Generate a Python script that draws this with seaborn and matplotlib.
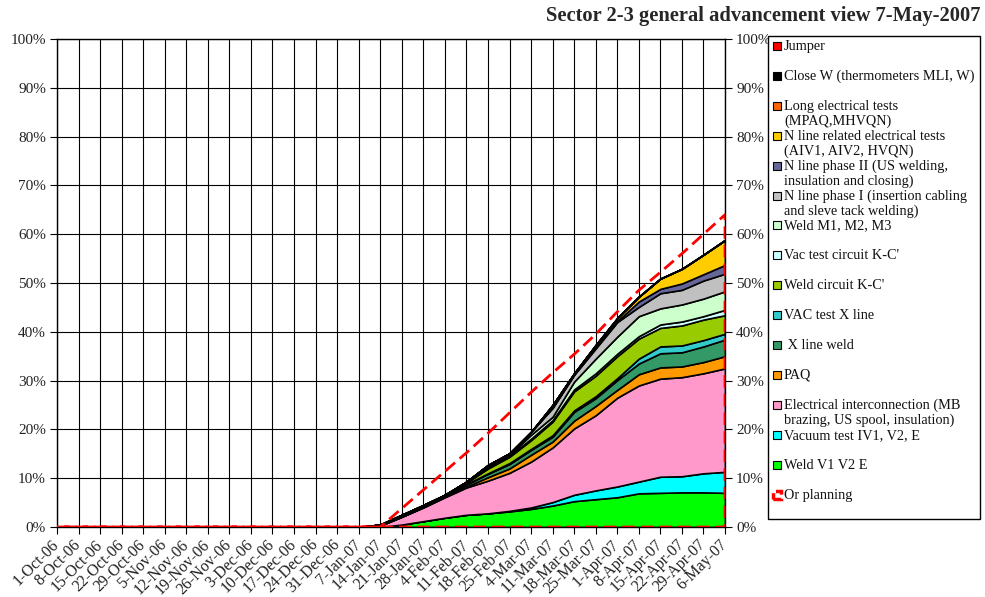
import numpy as np
import matplotlib
matplotlib.use("Agg")
import matplotlib.pyplot as plt
from matplotlib.patches import Rectangle
import seaborn as sns

# weekly dates on the x axis
weeks = ['1-Oct-06', '8-Oct-06', '15-Oct-06', '22-Oct-06', '29-Oct-06', '5-Nov-06',
         '12-Nov-06', '19-Nov-06', '26-Nov-06', '3-Dec-06', '10-Dec-06', '17-Dec-06',
         '24-Dec-06', '31-Dec-06', '7-Jan-07', '14-Jan-07', '21-Jan-07', '28-Jan-07',
         '4-Feb-07', '11-Feb-07', '18-Feb-07', '25-Feb-07', '4-Mar-07', '11-Mar-07',
         '18-Mar-07', '25-Mar-07', '1-Apr-07', '8-Apr-07', '15-Apr-07', '22-Apr-07',
         '29-Apr-07', '6-May-07']

# layer thickness in %, bottom of the stack first
weld_v1 = [0, 0, 0, 0, 0, 0, 0, 0, 0, 0, 0, 0, 0, 0, 0,
           0.0, 0.5, 1.2, 1.9, 2.5, 2.8, 3.2, 3.7, 4.4, 5.3, 5.7, 6.1, 6.9, 7.0, 7.1, 7.1, 7.0]
vac_iv1 = [0, 0, 0, 0, 0, 0, 0, 0, 0, 0, 0, 0, 0, 0, 0,
           0, 0, 0, 0, 0, 0, 0.1, 0.3, 0.7, 1.3, 1.8, 2.2, 2.4, 3.3, 3.3, 3.9, 4.3]
elec_ic = [0, 0, 0, 0, 0, 0, 0, 0, 0, 0, 0, 0, 0, 0, 0,
           0.3, 1.6, 2.8, 4.2, 5.6, 6.7, 7.8, 9.4, 11.2, 13.6, 15.4, 18.2, 19.7, 20.1, 20.3, 20.5, 21.2]
paq = [0, 0, 0, 0, 0, 0, 0, 0, 0, 0, 0, 0, 0, 0, 0,
       0, 0, 0.1, 0.1, 0.2, 0.7, 0.9, 1.4, 1.2, 1.6, 1.9, 1.6, 2.3, 2.3, 2.2, 2.3, 2.5]
x_weld = [0, 0, 0, 0, 0, 0, 0, 0, 0, 0, 0, 0, 0, 0, 0,
          0, 0.1, 0.1, 0.1, 0.4, 0.7, 0.9, 1.0, 1.0, 1.8, 1.6, 2.0, 2.2, 2.9, 2.9, 3.2, 3.4]
vac_x = [0, 0, 0, 0, 0, 0, 0, 0, 0, 0, 0, 0, 0, 0, 0,
         0, 0, 0, 0, 0.1, 0.1, 0.2, 0.2, 0.3, 0.3, 0.4, 0.4, 1.0, 1.4, 1.4, 1.3, 1.2]
weld_kc = [0, 0, 0, 0, 0, 0, 0, 0, 0, 0, 0, 0, 0, 0, 0,
           0, 0.1, 0.2, 0.2, 0.3, 1.0, 1.3, 1.8, 2.8, 3.9, 4.2, 4.5, 4.1, 3.8, 4.1, 4.2, 3.8]
vac_kc = [0, 0, 0, 0, 0, 0, 0, 0, 0, 0, 0, 0, 0, 0, 0,
          0, 0, 0, 0, 0, 0.2, 0.2, 0.3, 0.3, 0.4, 0.5, 0.5, 0.5, 0.7, 0.8, 0.7, 1.1]
weld_m = [0, 0, 0, 0, 0, 0, 0, 0, 0, 0, 0, 0, 0, 0, 0,
          0, 0.1, 0.1, 0.1, 0.1, 0.3, 0.2, 0.8, 0.7, 1.6, 3.0, 3.5, 4.1, 3.3, 3.5, 3.6, 3.8]
n_phase1 = [0, 0, 0, 0, 0, 0, 0, 0, 0, 0, 0, 0, 0, 0, 0,
            0.2, 0.1, 0, 0, 0.1, 0.2, 0.3, 0.6, 1.8, 1.4, 2.1, 3.0, 1.9, 3.1, 3.0, 3.7, 3.6]
n_phase2 = [0, 0, 0, 0, 0, 0, 0, 0, 0, 0, 0, 0, 0, 0, 0,
            0, 0, 0, 0, 0, 0, 0, 0, 0.2, 0.1, 0.2, 0.2, 1.1, 0.9, 1.3, 1.3, 1.8]
n_elec = [0, 0, 0, 0, 0, 0, 0, 0, 0, 0, 0, 0, 0, 0, 0,
          0, 0, 0, 0, 0, 0, 0, 0, 0.4, 0.2, 0.5, 0.6, 1.0, 2.1, 3.0, 4.0, 5.1]
long_elec = [0] * 32
close_w = [0] * 32
jumper = [0] * 32

# planning curve (cumulative %)
planning = [0, 0, 0, 0, 0, 0, 0, 0, 0, 0, 0, 0, 0, 0, 0,
            0, 3.8, 7.6, 11.4, 15.2, 19.2, 23.4, 27.6, 31.6, 35.4, 39.5, 44.1, 48.5, 52.2, 56.0, 60.0, 64.0]

layers = [weld_v1, vac_iv1, elec_ic, paq, x_weld, vac_x, weld_kc, vac_kc, weld_m,
          n_phase1, n_phase2, n_elec, long_elec, close_w, jumper]
colors = ['#00FF00', '#00FFFF', '#FF99CC', '#FF9900', '#339966', '#33CCCC', '#99CC00',
          '#CCFFFF', '#CCFFCC', '#C0C0C0', '#666699', '#FFCC00', '#FF6600', '#000000', '#FF0000']
labels = ['Weld V1 V2 E', 'Vacuum test IV1, V2, E',
          'Electrical interconnection (MB\nbrazing, US spool, insulation)', 'PAQ',
          ' X line weld', 'VAC test X line', "Weld circuit K-C'", "Vac test circuit K-C'",
          'Weld M1, M2, M3', 'N line phase I (insertion cabling\nand sleve tack welding)',
          'N line phase II (US welding,\ninsulation and closing)',
          'N line related electrical tests\n(AIV1, AIV2, HVQN)',
          'Long electrical tests\n(MPAQ,MHVQN)', 'Close W (thermometers MLI, W)', 'Jumper']

sns.set_theme(style="white")
plt.rcParams['font.family'] = ['Liberation Serif', 'DejaVu Serif']

W, H = 985, 597
fig = plt.figure(figsize=(W / 100, H / 100), dpi=100)
ax = fig.add_axes([57 / W, 1 - 527 / H, (725 - 57) / W, (527 - 39) / H])

x = np.arange(len(weeks))
ax.stackplot(x, *layers, colors=colors, edgecolor='black', linewidth=1.2, zorder=2)
ax.fill_between(x, planning, facecolor='none', edgecolor='red', linewidth=2,
                linestyle=(0, (4.5, 2.2)), zorder=4)

ax.set_xlim(0, len(weeks) - 1)
ax.set_ylim(0, 100)
ax.set_xticks(x)
ax.set_xticklabels(weeks, rotation=45, ha='right', va='center', rotation_mode='anchor',
                   fontsize=11.5)
ax.set_yticks(np.arange(0, 101, 10))
ax.set_yticklabels([f'{v}%' for v in range(0, 101, 10)], fontsize=11)
ax.tick_params(axis='y', which='both', left=True, right=True, labelright=True,
               direction='out', length=5, width=0.8, color='black', pad=3, labelcolor='#222222')
ax.tick_params(axis='x', bottom=True, direction='out', length=5, width=0.8,
               color='black', pad=6, labelcolor='#222222')
ax.grid(True, color='black', linewidth=0.8)
ax.set_axisbelow(True)
for s in ax.spines.values():
    s.set_color('black')
    s.set_linewidth(1)

fig.text(980 / W, 1 - 16 / H, 'Sector 2-3 general advancement view 7-May-2007',
         ha='right', va='center', fontsize=14.8, fontweight='bold')

# legend box, drawn by hand to keep even row spacing
fig.patches.append(Rectangle((768 / W, 1 - 519 / H), 212 / W, 483 / H, transform=fig.transFigure,
                             facecolor='white', edgecolor='black', linewidth=1))
entries = list(zip(labels[::-1], colors[::-1])) + [('Or planning', None)]
for k, (lab, col) in enumerate(entries):
    yc = 46 + k * 29.9
    if col is None:
        fig.patches.append(Rectangle((773 / W, 1 - (yc + 4) / H), 8 / W, 8 / H,
                                     transform=fig.transFigure, facecolor='none',
                                     edgecolor='red', linewidth=2.5, linestyle=(0, (2.5, 1.2))))
    else:
        fig.patches.append(Rectangle((773 / W, 1 - (yc + 4) / H), 8 / W, 8 / H,
                                     transform=fig.transFigure, facecolor=col,
                                     edgecolor='black', linewidth=0.8))
    fig.text(784 / W, 1 - (yc - 6) / H, lab, ha='left', va='top', fontsize=10.3,
             linespacing=1.15, color='#111111')

fig.savefig('out.png', dpi=100)
